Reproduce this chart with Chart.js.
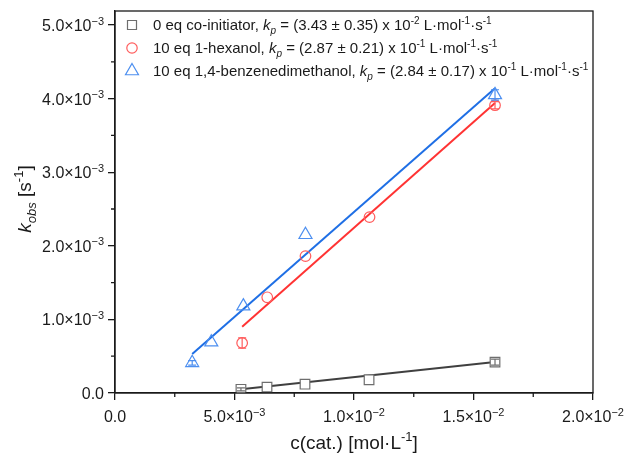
<!DOCTYPE html>
<html>
<head>
<meta charset="utf-8">
<script src="https://cdn.jsdelivr.net/npm/chart.js@4.4.1/dist/chart.umd.min.js"></script>
<style>
  html, body { margin: 0; padding: 0; background: #ffffff; }
  #wrap { width: 628px; height: 459px; position: relative; }
</style>
</head>
<body>
<div id="wrap"><canvas id="c"></canvas></div>
<script>
// ---------- data ----------
const blackX = [5.27e-3, 6.36e-3, 7.95e-3, 10.63e-3, 15.9e-3];
const blackY = [0.05e-3, 0.08e-3, 0.12e-3, 0.18e-3, 0.42e-3];
const blackErr = [0.02e-3, 0, 0, 0, 0.04e-3];

const redX = [5.32e-3, 6.37e-3, 7.97e-3, 10.65e-3, 15.9e-3];
const redY = [0.68e-3, 1.30e-3, 1.86e-3, 2.39e-3, 3.91e-3];
const redErr = [0.07e-3, 0, 0, 0, 0.05e-3];

const blueX = [3.23e-3, 4.03e-3, 5.37e-3, 7.97e-3, 15.9e-3];
const blueY = [0.41e-3, 0.69e-3, 1.18e-3, 2.15e-3, 4.05e-3];
const blueErr = [0.03e-3, 0, 0, 0, 0.07e-3];

// linear fit lines (end points)
const blackFitX = [5.27e-3, 15.9e-3];
const blackFitY = [0.05e-3, 0.42e-3];
const redFitX = [5.32e-3, 15.9e-3];
const redFitY = [0.90e-3, 3.94e-3];
const blueFitX = [3.23e-3, 15.9e-3];
const blueFitY = [0.53e-3, 4.14e-3];

// axes
const xTickValues = [0, 5e-3, 10e-3, 15e-3, 20e-3];
const xTickBase = ['0.0', '5.0×10', '1.0×10', '1.5×10', '2.0×10'];
const xTickExp = ['', '−3', '−2', '−2', '−2'];
const xMinorTicks = [2.5e-3, 7.5e-3, 12.5e-3, 17.5e-3];
const yTickValues = [0, 1e-3, 2e-3, 3e-3, 4e-3, 5e-3];
const yTickBase = ['0.0', '1.0×10', '2.0×10', '3.0×10', '4.0×10', '5.0×10'];
const yTickExp = ['', '−3', '−3', '−3', '−3', '−3'];
const yMinorTicks = [0.5e-3, 1.5e-3, 2.5e-3, 3.5e-3, 4.5e-3];

// legend texts (segments: [text, kind])
const legendRows = [
  [['0 eq co-initiator, ', 'n'], ['k', 'i'], ['p', 'isub'], [' = (3.43 ± 0.35) x 10', 'n'], ['-2', 'sup'], [' L·mol', 'n'], ['-1', 'sup'], ['·s', 'n'], ['-1', 'sup']],
  [['10 eq 1-hexanol, ', 'n'], ['k', 'i'], ['p', 'isub'], [' = (2.87 ± 0.21) x 10', 'n'], ['-1', 'sup'], [' L·mol', 'n'], ['-1', 'sup'], ['·s', 'n'], ['-1', 'sup']],
  [['10 eq 1,4-benzenedimethanol, ', 'n'], ['k', 'i'], ['p', 'isub'], [' = (2.84 ± 0.17) x 10', 'n'], ['-1', 'sup'], [' L·mol', 'n'], ['-1', 'sup'], ['·s', 'n'], ['-1', 'sup']]
];
const xTitle = [['c(cat.) [mol·L', 'n'], ['-1', 'sup'], [']', 'n']];
const yTitle = [['k', 'i'], ['obs', 'isub'], [' [s', 'n'], ['-1', 'sup'], [']', 'n']];

// ---------- styles ----------
const FAM = '"Liberation Sans", Arial, Helvetica, sans-serif';
const INK = '#1a1a1a';
const C_BLACK_LINE = '#404040', C_BLACK_PT = '#6e6e6e';
const C_RED_LINE = '#ff3333', C_RED_PT = '#ff5c5c';
const C_BLUE_LINE = '#1f6fe5', C_BLUE_PT = '#4d8ff0';

const toPts = (xs, ys) => xs.map((x, i) => ({ x: x, y: ys[i] }));

function fontFor(k, size) {
  const it = k.indexOf('i') === 0 ? 'italic ' : '';
  const small = (k.indexOf('sub') >= 0 || k.indexOf('sup') >= 0);
  return it + (small ? Math.round(size * 0.68) : size) + 'px ' + FAM;
}
function richWidth(ctx, segs, size) {
  let w = 0;
  for (const [t, k] of segs) { ctx.font = fontFor(k, size); w += ctx.measureText(t).width; }
  return w;
}
function drawRich(ctx, segs, x, y, size, align) {
  const w = richWidth(ctx, segs, size);
  let cx = align === 'center' ? x - w / 2 : (align === 'right' ? x - w : x);
  ctx.textBaseline = 'alphabetic';
  ctx.textAlign = 'left';
  for (const [t, k] of segs) {
    ctx.font = fontFor(k, size);
    let dy = 0;
    if (k.indexOf('sup') >= 0) dy = -size * 0.40;
    if (k.indexOf('sub') >= 0) dy = size * 0.24;
    ctx.fillText(t, cx, y + dy);
    cx += ctx.measureText(t).width;
  }
}
function drawMarker(ctx, shape, x, y, color, fill) {
  ctx.save();
  ctx.strokeStyle = color; ctx.lineWidth = 1.2; ctx.fillStyle = fill;
  ctx.beginPath();
  if (shape === 'rect') { ctx.rect(x - 4.5, y - 4.5, 9, 9); }
  else if (shape === 'circle') { ctx.arc(x, y, 5.2, 0, Math.PI * 2); }
  else { const r = 7.5; ctx.moveTo(x, y - r); ctx.lineTo(x + r * 0.866, y + r * 0.5); ctx.lineTo(x - r * 0.866, y + r * 0.5); ctx.closePath(); }
  ctx.fill(); ctx.stroke();
  ctx.restore();
}

const decor = {
  id: 'decor',
  afterDatasetsDraw(chart) {
    const { ctx, scales } = chart;
    const xs = scales.x, ys = scales.y;
    const sets = [[blackX, blackY, blackErr, C_BLACK_PT], [redX, redY, redErr, C_RED_PT], [blueX, blueY, blueErr, C_BLUE_PT]];
    ctx.save();
    ctx.lineWidth = 1.2;
    for (const [X, Y, E, col] of sets) {
      ctx.strokeStyle = col;
      X.forEach((xv, i) => {
        if (!E[i]) return;
        const px = xs.getPixelForValue(xv);
        const p1 = ys.getPixelForValue(Y[i] + E[i]);
        const p2 = ys.getPixelForValue(Y[i] - E[i]);
        ctx.beginPath();
        ctx.moveTo(px, p1); ctx.lineTo(px, p2);
        ctx.moveTo(px - 4, p1); ctx.lineTo(px + 4, p1);
        ctx.moveTo(px - 4, p2); ctx.lineTo(px + 4, p2);
        ctx.stroke();
      });
    }
    ctx.restore();
  },
  afterDraw(chart) {
    const { ctx, chartArea: a, scales } = chart;
    const xs = scales.x, ys = scales.y;
    ctx.save();
    // frame
    ctx.strokeStyle = INK; ctx.lineWidth = 1.3;
    ctx.strokeRect(a.left, a.top, a.right - a.left, a.bottom - a.top);
    // minor ticks
    ctx.beginPath();
    for (const v of xMinorTicks) { const p = xs.getPixelForValue(v); ctx.moveTo(p, a.bottom); ctx.lineTo(p, a.bottom + 4); }
    for (const v of yMinorTicks) { const p = ys.getPixelForValue(v); ctx.moveTo(a.left, p); ctx.lineTo(a.left - 4, p); }
    ctx.stroke();
    // tick labels
    ctx.fillStyle = INK;
    xTickValues.forEach((v, i) => {
      const segs = [[xTickBase[i], 'n']];
      if (xTickExp[i]) segs.push([xTickExp[i], 'sup']);
      drawRich(ctx, segs, xs.getPixelForValue(v), a.bottom + 29, 16, 'center');
    });
    yTickValues.forEach((v, i) => {
      const segs = [[yTickBase[i], 'n']];
      if (yTickExp[i]) segs.push([yTickExp[i], 'sup']);
      drawRich(ctx, segs, a.left - 11, ys.getPixelForValue(v) + 6, 16, 'right');
    });
    // legend
    const shapes = [['rect', C_BLACK_PT], ['circle', C_RED_PT], ['triangle', C_BLUE_PT]];
    const rowY = [25, 48, 71];
    legendRows.forEach((segs, i) => {
      drawMarker(ctx, shapes[i][0], a.left + 17, rowY[i], shapes[i][1], 'rgba(255,255,255,0)');
      ctx.fillStyle = INK;
      drawRich(ctx, segs, a.left + 38, rowY[i] + 5, 15, 'left');
    });
    // axis titles
    ctx.fillStyle = INK;
    drawRich(ctx, xTitle, (a.left + a.right) / 2, 449, 19, 'center');
    ctx.translate(31, 199);
    ctx.rotate(-Math.PI / 2);
    drawRich(ctx, yTitle, 0, 0, 19, 'center');
    ctx.restore();
  }
};

const lineDs = (xs, ys, col) => ({
  data: toPts(xs, ys), showLine: true, borderColor: col, borderWidth: 2,
  pointRadius: 0, fill: false, order: 2
});
const ptDs = (xs, ys, col, shape, r, fill) => ({
  data: toPts(xs, ys), showLine: false, borderColor: col, backgroundColor: fill,
  pointStyle: shape, pointRadius: r, pointBorderWidth: 1.2, order: 1
});

new Chart(document.getElementById('c'), {
  type: 'scatter',
  data: {
    datasets: [
      lineDs(blackFitX, blackFitY, C_BLACK_LINE),
      lineDs(redFitX, redFitY, C_RED_LINE),
      lineDs(blueFitX, blueFitY, C_BLUE_LINE),
      ptDs(blackX, blackY, C_BLACK_PT, 'rect', 6.8, '#ffffff'),
      ptDs(redX, redY, C_RED_PT, 'circle', 5.3, 'rgba(255,255,255,0)'),
      ptDs(blueX, blueY, C_BLUE_PT, 'triangle', 7.5, 'rgba(255,255,255,0)')
    ]
  },
  options: {
    responsive: true,
    maintainAspectRatio: false,
    animation: false,
    layout: { padding: { left: 0, top: 11, right: 35, bottom: 0 } },
    plugins: { legend: { display: false }, tooltip: { enabled: false } },
    scales: {
      x: {
        type: 'linear', min: 0, max: 0.02,
        afterBuildTicks: (s) => { s.ticks = xTickValues.map(v => ({ value: v })); },
        afterFit: (s) => { s.height = 66; s.paddingLeft = 0; s.paddingRight = 0; },
        ticks: { callback: () => '', font: { family: FAM, size: 15 }, color: INK, padding: 5, maxRotation: 0, autoSkip: false },
        grid: { drawOnChartArea: false, drawTicks: true, tickLength: 7, color: INK, lineWidth: 1.3 },
        border: { display: true, color: INK, width: 1.3 }
      },
      y: {
        type: 'linear', min: 0, max: 5.19e-3,
        afterBuildTicks: (s) => { s.ticks = yTickValues.map(v => ({ value: v })); },
        afterFit: (s) => { s.width = 115; s.paddingTop = 0; s.paddingBottom = 0; },
        ticks: { callback: () => '', font: { family: FAM, size: 15 }, color: INK, padding: 4, autoSkip: false },
        grid: { drawOnChartArea: false, drawTicks: true, tickLength: 7, color: INK, lineWidth: 1.3 },
        border: { display: true, color: INK, width: 1.3 }
      }
    }
  },
  plugins: [decor]
});
</script>
</body>
</html>
